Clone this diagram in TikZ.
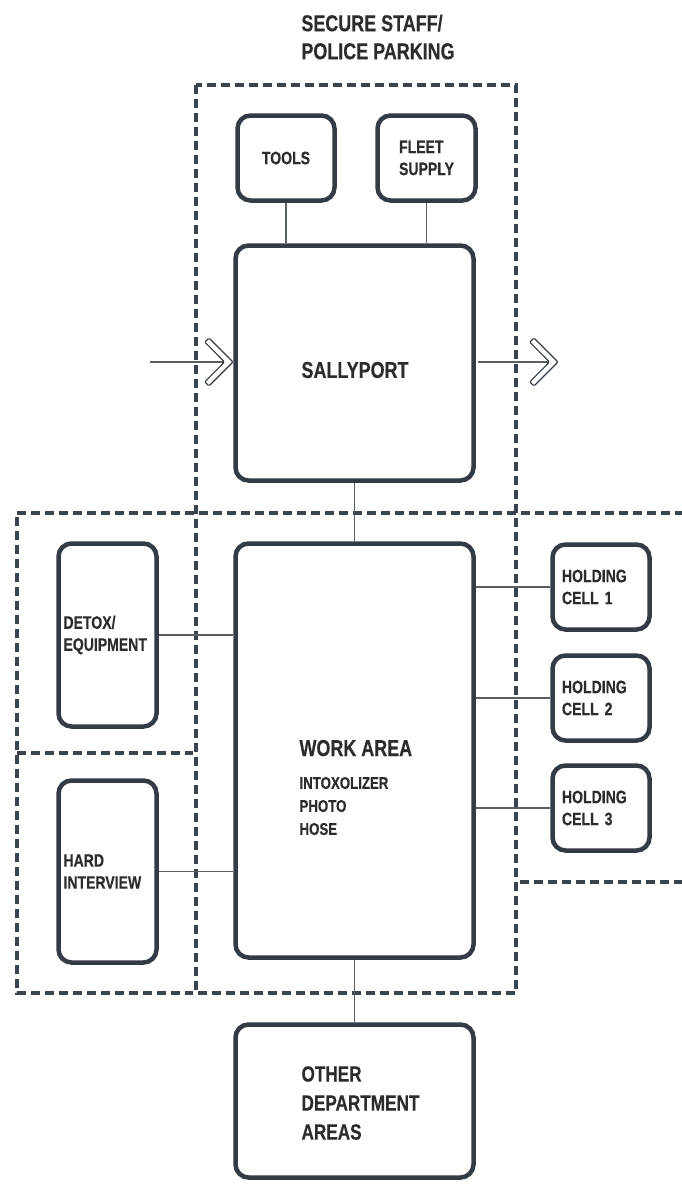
\documentclass[tikz,border=0pt]{standalone}
\usepackage{fontspec}
\setmainfont[FakeStretch=0.78,FakeBold=0.4]{Liberation Sans}
\definecolor{boxc}{HTML}{333C45}
\definecolor{dashc}{HTML}{3A444E}
\definecolor{linkc}{HTML}{5A5F64}
\definecolor{txtc}{HTML}{2A2C2E}
\begin{document}
\begin{tikzpicture}[x=1pt,y=-1pt,
  box/.style={draw=boxc, line width=4.5pt, rounded corners=13pt, fill=white, inner sep=0pt},
  zone/.style={draw=dashc, line width=4.5pt, dash pattern=on 9pt off 5pt},
  link/.style={draw=linkc, line width=1.1pt},
  lbl/.style={text=txtc, font=\fontsize{18}{22}\selectfont\bfseries, align=left},
  big/.style={text=txtc, font=\fontsize{23}{28}\selectfont\bfseries, align=left},
  chev/.style={draw=boxc, line width=1.1pt, fill=white, rounded corners=1.2pt}]
\useasboundingbox[fill=white] (0,0) rectangle (682,1186);

% title
\node[big] (title) at (378,37) {SECURE STAFF/\\POLICE PARKING};

% dashed zones (no overlapping segments)
\draw[zone] (196,85) rectangle (516,993);
\draw[zone] (17,513) -- (682,513);
\draw[zone] (17,517) -- (17,993) -- (193,993);
\draw[zone] (17,753) -- (193,753);
\draw[zone] (520,882) -- (682,882);

% boxes
\node[box, lbl, minimum width=97pt, minimum height=85pt] (tools) at (286,158) {TOOLS};
\node[box, lbl, minimum width=98pt, minimum height=85pt] (fleet) at (426.5,158) {FLEET\\SUPPLY};
\node[box, minimum width=238pt, minimum height=235pt] (sally) at (354.5,363) {};
\node[big] (sallytxt) at (355,370) {SALLYPORT};
\node[box, minimum width=238pt, minimum height=414pt] (work) at (354.5,750.5) {};
\node[big, anchor=base west] (worktxt) at (296,756) {WORK AREA};
\node[lbl, anchor=west, font=\fontsize{17}{23}\selectfont\bfseries] (worklist) at (296,806) {INTOXOLIZER\\PHOTO\\HOSE};
\node[box, lbl, text width=88pt, minimum width=98pt, minimum height=183pt] (detox) at (107.5,635) {DETOX/\\EQUIPMENT};
\node[box, lbl, text width=88pt, minimum width=98pt, minimum height=182pt] (hard) at (107.5,871.5) {HARD\\INTERVIEW};
\node[box, lbl, text width=78pt, minimum width=97pt, minimum height=85pt] (cell1) at (601,587) {HOLDING\\CELL 1};
\node[box, lbl, text width=78pt, minimum width=97pt, minimum height=85pt] (cell2) at (601,698) {HOLDING\\CELL 2};
\node[box, lbl, text width=78pt, minimum width=97pt, minimum height=85pt] (cell3) at (601,808) {HOLDING\\CELL 3};
\node[box, minimum width=238pt, minimum height=153pt] (other) at (354.5,1101) {};
\node[lbl, anchor=west, font=\fontsize{22}{29}\selectfont\bfseries] (othertxt) at (298,1103) {OTHER\\DEPARTMENT\\AREAS};

% connectors
\draw[link] (tools.south) -- (tools.south |- sally.north);
\draw[link] (fleet.south) -- (fleet.south |- sally.north);
\draw[link] (sally.south) -- (work.north);
\draw[link] (work.south) -- (other.north);
\draw[link] (detox.east) -- (detox.east -| work.west);
\draw[link] (hard.east) -- (hard.east -| work.west);
\draw[link] (cell1.west) -- (cell1.west -| work.east);
\draw[link] (cell2.west) -- (cell2.west -| work.east);
\draw[link] (cell3.west) -- (cell3.west -| work.east);

% arrows in / out
\coordinate (inA) at (150,362);
\coordinate (inB) at (233,362);
\coordinate (outA) at (478,362);
\coordinate (outB) at (558,362);
\draw[link] (inA) -- (inB);
\draw[link] (outA) -- (outB);
\draw[chev] (inB) -- ++(-24,-24) -- ++(-4.2,4.2) -- ++(19.7,19.8) -- ++(-19.7,19.8) -- ++(4.2,4.2) -- cycle;
\draw[chev] (outB) -- ++(-24,-24) -- ++(-4.2,4.2) -- ++(19.7,19.8) -- ++(-19.7,19.8) -- ++(4.2,4.2) -- cycle;
\end{tikzpicture}
\end{document}
